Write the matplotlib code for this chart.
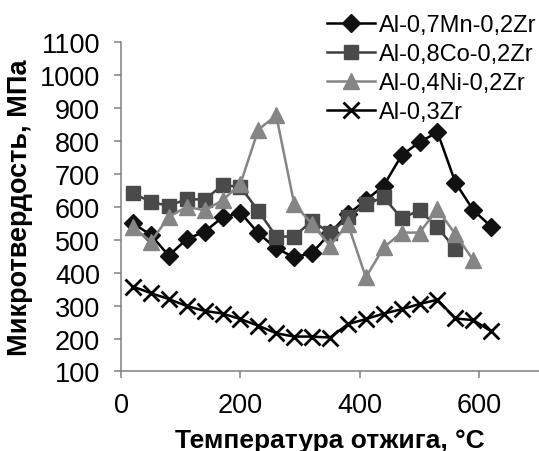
import matplotlib
matplotlib.use("Agg")
import matplotlib.pyplot as plt

plt.rcParams["font.family"] = ["Liberation Sans", "DejaVu Sans"]

temp_mn = [20, 50, 80, 110, 140, 170, 200, 230, 260, 290, 320, 350, 380, 410, 440, 470, 500, 530, 560, 590, 620]
hv_mn = [550, 515, 452, 502, 525, 568, 583, 520, 474, 447, 460, 520, 578, 620, 665, 757, 797, 827, 674, 590, 540]

temp_co = [20, 50, 80, 110, 140, 170, 200, 230, 260, 290, 320, 350, 380, 410, 440, 470, 500, 530, 560]
hv_co = [642, 615, 603, 624, 622, 666, 661, 588, 510, 510, 558, 520, 568, 609, 629, 565, 590, 538, 472]

temp_ni = [20, 50, 80, 110, 140, 170, 200, 230, 260, 290, 320, 350, 380, 410, 440, 470, 500, 530, 560, 590]
hv_ni = [540, 494, 570, 600, 590, 620, 670, 835, 878, 609, 548, 482, 548, 386, 477, 522, 522, 593, 517, 438]

temp_zr = [20, 50, 80, 110, 140, 170, 200, 230, 260, 290, 320, 350, 380, 410, 440, 470, 500, 530, 560, 590, 620]
hv_zr = [358, 338, 320, 299, 284, 276, 259, 239, 216, 206, 206, 203, 244, 259, 276, 289, 305, 318, 261, 256, 222]

fig = plt.figure(figsize=(5.39, 4.52), dpi=100)
ax = fig.add_axes([0.2245, 0.176, 0.7755, 0.728])

ax.plot(temp_mn, hv_mn, color="black", lw=1.8, marker="D", ms=9.5, mfc="#111111", mec="#111111",
        label="Al-0,7Mn-0,2Zr")
ax.plot(temp_co, hv_co, color="#404040", lw=1.8, marker="s", ms=10, mfc="#4a4a4a", mec="#4a4a4a",
        label="Al-0,8Co-0,2Zr")
ax.plot(temp_ni, hv_ni, color="#858585", lw=1.8, marker="^", ms=11, mfc="#858585", mec="#858585",
        label="Al-0,4Ni-0,2Zr")
ax.plot(temp_zr, hv_zr, color="black", lw=1.8, marker="x", ms=11, mew=2, label="Al-0,3Zr")

ax.set_xlim(0, 700)
ax.set_ylim(100, 1100)
ax.set_xticks([0, 200, 400, 600])
ax.set_yticks(range(100, 1101, 100))

for s in ["top", "right"]:
    ax.spines[s].set_visible(False)
for s in ["left", "bottom"]:
    ax.spines[s].set_color("#808080")
    ax.spines[s].set_linewidth(1.1)
ax.tick_params(axis="both", direction="out", length=5, width=1.1, color="#808080",
               labelsize=19.5, pad=10)

ax.set_xlabel("Температура отжига, °C", fontsize=19, fontweight="bold")
ax.set_ylabel("Микротвердость, МПа", fontsize=19.5, fontweight="bold")
ax.xaxis.set_label_coords(0.5, -0.172)
ax.yaxis.set_label_coords(-0.21, 0.5)

ax.legend(loc="upper left", bbox_to_anchor=(0.471, 1.115), frameon=False, fontsize=17,
          handlelength=2.0, handletextpad=0.2, labelspacing=0.3, borderaxespad=0)

fig.savefig("out.png", dpi=100)
